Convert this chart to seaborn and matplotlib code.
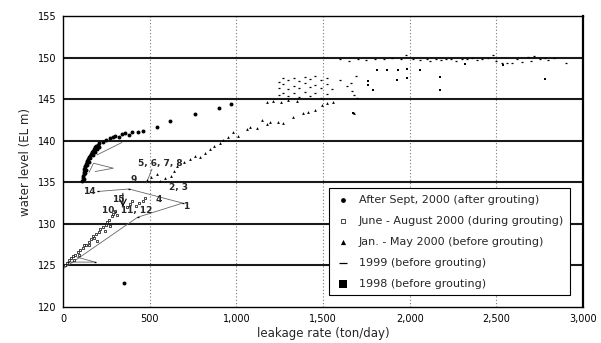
import numpy as np
import pandas as pd
import matplotlib
matplotlib.use("Agg")
import matplotlib.pyplot as plt
from matplotlib.ticker import FuncFormatter
import seaborn as sns

# ---- data ----
# after Sept 2000 (after grouting) - dense band at low leakage + upper trend
after_x = [110, 112, 115, 118, 120, 122, 125, 128, 132, 136, 140, 145, 150, 155, 160, 166,
           172, 178, 185, 192, 200, 210, 118, 124, 130, 138, 148, 158, 170, 182, 195, 205,
           230, 250, 270, 290, 300, 320, 340, 360, 380, 400, 430, 460, 540, 617, 762, 900,
           969, 350]
after_y = [135.2, 135.5, 135.8, 136.0, 136.3, 136.6, 136.8, 137.0, 137.2, 137.4, 137.6, 137.8,
           138.0, 138.2, 138.4, 138.6, 138.8, 139.0, 139.2, 139.4, 139.5, 139.7, 135.4, 136.1,
           136.5, 137.1, 137.5, 137.9, 138.3, 138.7, 139.0, 139.3,
           139.9, 140.1, 140.3, 140.4, 140.6, 140.5, 140.8, 140.9, 140.7, 141.0, 141.1, 141.2,
           141.7, 142.4, 143.2, 143.9, 144.4, 122.9]

# June - August 2000 (during grouting)
june_x = [10, 23, 35, 45, 58, 70, 85, 100, 115, 130, 150, 160, 170, 180, 190, 205, 215, 230,
          245, 255, 265, 280, 290, 300, 310, 270, 240, 195, 150, 120, 90, 60,
          370, 385, 400, 420, 440, 460, 475]
june_y = [125.0, 125.3, 125.6, 125.9, 126.1, 126.3, 126.6, 126.8, 127.1, 127.4, 127.8, 128.2,
          128.5, 128.3, 128.8, 129.0, 129.4, 129.6, 129.9, 130.2, 130.5, 130.9, 131.2, 131.5,
          131.1, 129.8, 129.2, 128.0, 127.4, 127.5, 126.2, 125.7,
          132.0, 132.4, 132.7, 132.2, 132.5, 132.8, 133.1]

# Jan. - May 2000 (before grouting)
jan_x = [485, 510, 540, 560, 590, 620, 640, 660, 700, 733, 760, 790, 820, 848, 870, 906, 923,
         952, 981, 1010, 1062, 1079, 1119, 1148, 1177, 1194, 1241, 1269, 1327, 1385, 1414, 1454,
         1494, 1523, 1560, 1680, 1177, 1210, 1260, 1300, 1350]
jan_y = [135.3, 135.7, 136.0, 135.2, 135.5, 135.8, 136.4, 137.0, 137.5, 137.8, 138.2, 138.0,
         138.5, 139.0, 139.4, 139.7, 140.1, 140.4, 141.1, 140.6, 141.4, 141.7, 141.5, 142.5,
         142.0, 142.3, 142.3, 142.1, 142.9, 143.3, 143.5, 143.7, 144.3, 144.6, 144.7, 143.3,
         144.7, 144.8, 144.7, 144.9, 144.8]

# 1999 (before grouting)
y99_x = [1245, 1245, 1245, 1270, 1270, 1270, 1300, 1300, 1300, 1330, 1330, 1330, 1360, 1360,
         1360, 1395, 1395, 1395, 1425, 1425, 1425, 1455, 1455, 1455, 1490, 1490, 1490, 1520,
         1520, 1520, 1550, 1600, 1640, 1660, 1670, 1680, 1690, 1695,
         1600, 1650, 1700, 1750, 1800, 1850, 1900, 1950, 1980, 2020, 2060, 2100, 2120, 2150,
         2180, 2210, 2240, 2270, 2300, 2330, 2360, 2390, 2420, 2450, 2480, 2500, 2530, 2560,
         2590, 2620, 2650, 2680, 2700, 2720, 2750, 2780, 2800, 2830, 2900,
         690, 430, 380, 200, 30, 185]
y99_y = [145.5, 146.3, 147.1, 145.8, 146.8, 147.5, 145.4, 146.2, 147.3, 145.7, 146.6, 147.6,
         145.3, 146.4, 147.2, 145.9, 146.9, 147.7, 145.4, 146.5, 147.4, 145.8, 146.7, 147.8,
         145.2, 146.3, 147.3, 145.6, 146.8, 147.6, 146.2, 147.3, 146.6, 147.0, 146.0, 145.5,
         147.8, 145.1,
         149.8, 149.6, 149.9, 149.7, 149.9, 149.8, 150.0, 149.9, 150.3, 149.8, 149.7, 149.8,
         149.6, 149.9, 149.7, 149.8, 149.9, 149.6, 149.8, 149.9, 150.0, 149.7, 149.8, 150.0,
         150.3, 149.6, 149.3, 149.3, 149.4, 149.9, 149.5, 150.1, 149.6, 150.2, 149.9, 150.0,
         149.7, 150.0, 149.4,
         132.5, 130.8, 134.2, 133.9, 125.4, 125.4]

# 1998 (before grouting)
y98_x = [1812, 1870, 1930, 1985, 2060, 2175, 1985, 1760, 1760, 1790, 2175, 2781, 1927, 1673,
         2540, 2320]
y98_y = [148.5, 148.5, 148.5, 148.6, 148.5, 147.7, 147.5, 147.2, 146.7, 146.1, 146.1, 147.4,
         147.3, 143.3, 149.1, 149.2]

# thin connecting lines of the 1999 record (None breaks a segment)
path_x = [30, 185, 80, None, 0, 430, 690, 380, 200, None, 150, 175, 290, 185, None, 196, 340,
          None, 513, 480]
path_y = [125.4, 125.4, 126.0, None, 124.6, 130.8, 132.5, 134.2, 133.9, None, 136.2, 137.3,
          136.7, 136.3, None, 138.3, 139.8, None, 136.6, 134.9]

# month labels
ann_labels = ["5, 6, 7, 8", "9", "2, 3", "14", "15", "4", "1", "10, 11, 12"]
ann_x = [560, 405, 668, 150, 318, 552, 712, 368]
ann_y = [137.3, 135.3, 134.4, 133.9, 132.9, 132.9, 132.1, 131.6]

x_ticks = [0, 500, 1000, 1500, 2000, 2500, 3000]
y_ticks = [120, 125, 130, 135, 140, 145, 150, 155]

sns.set_theme(style="white")
plt.rcParams["font.family"] = ["DejaVu Sans"]

fig, ax = plt.subplots(figsize=(6.01, 3.43), dpi=100)
fig.subplots_adjust(left=0.105, right=0.970, bottom=0.105, top=0.953)

# grid first so the marks sit on top
for v in [500, 1000, 1500, 2000, 2500]:
    ax.axvline(v, color="#777777", lw=0.8, ls=(0, (1, 2)), zorder=0)
for h in [125, 130, 135, 140, 145, 150]:
    ax.axhline(h, color="#1a1a1a", lw=1.5, zorder=0)

ax.plot(path_x, path_y, color="#666666", lw=0.6, zorder=1)

sns.scatterplot(x=after_x, y=after_y, marker="o", s=8, color="black", edgecolor="black",
                linewidth=0, ax=ax, label="After Sept, 2000 (after grouting)", zorder=3)
sns.scatterplot(x=june_x, y=june_y, marker="s", s=3, color="white", edgecolor="black",
                linewidth=0.5, ax=ax, label="June - August 2000 (during grouting)", zorder=3)
sns.scatterplot(x=jan_x, y=jan_y, marker="^", s=4, color="black", edgecolor="black",
                linewidth=0, ax=ax, label="Jan. - May 2000 (before grouting)", zorder=3)
sns.scatterplot(x=y99_x, y=y99_y, marker="_", s=4, color="black",
                linewidth=0.9, ax=ax, label="1999 (before grouting)", zorder=3)
sns.scatterplot(x=y98_x, y=y98_y, marker="s", s=4, color="black", edgecolor="black",
                linewidth=0, ax=ax, label="1998 (before grouting)", zorder=3)

for t, x, y in zip(ann_labels, ann_x, ann_y):
    ax.text(x, y, t, fontsize=6.5, fontweight="bold", ha="center", va="center", zorder=4)
ax.annotate("", xy=(345, 131.7), xytext=(345, 134.0),
            arrowprops=dict(arrowstyle="->", lw=0.8, color="black"))

ax.set_xlim(0, 3000)
ax.set_ylim(120, 155)
ax.set_xticks(x_ticks)
ax.set_yticks(y_ticks)
ax.xaxis.set_major_formatter(FuncFormatter(lambda v, p: f"{int(v):,}"))
ax.tick_params(length=0, labelsize=7, pad=5, colors="black")
ax.set_xlabel("leakage rate (ton/day)", fontsize=8.5, labelpad=2)
ax.set_ylabel("water level (EL m)", fontsize=8.5, labelpad=4)
for sp in ax.spines.values():
    sp.set_color("black")
    sp.set_linewidth(1.0)
ax.spines["right"].set_linewidth(1.6)

# legend with bigger handles, like the figure
leg = ax.legend(loc="lower right", bbox_to_anchor=(0.975, 0.041), fontsize=8,
                frameon=True, fancybox=False, edgecolor="black", framealpha=1,
                labelspacing=1.0, handletextpad=0.8, borderpad=0.55, handlelength=1.3,
                borderaxespad=0)
leg.get_frame().set_linewidth(0.8)
leg.set_zorder(5)
h = leg.legend_handles
for hd, sz in zip(h, [12, 10, 14, 30, 40]):
    hd.set_sizes([sz])

fig.savefig("out.png", dpi=100)
